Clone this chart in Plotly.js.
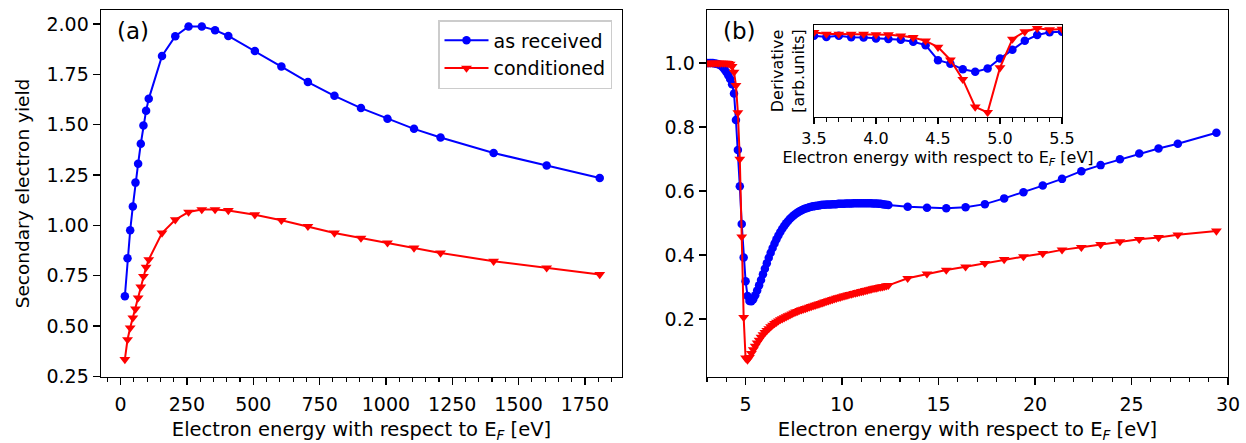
<!DOCTYPE html>
<html>
<head>
<meta charset="utf-8">
<script src="https://cdn.plot.ly/plotly-3.0.1.min.js"></script>
<style>html,body{margin:0;padding:0;background:#fff;}#chart{width:1246px;height:443px;}</style>
</head>
<body>
<div id="chart"></div>
<script>
// ---------- Panel (a) ----------
var energyA = [16,26,36,46,56,66,76,86,96,106,156,206,256,306,356,406,506,606,706,806,906,1006,1106,1206,1406,1606,1806];
var yieldAsReceivedA = [0.648,0.836,0.975,1.094,1.212,1.306,1.405,1.496,1.569,1.628,1.841,1.939,1.987,1.987,1.969,1.940,1.866,1.788,1.711,1.643,1.582,1.529,1.479,1.436,1.359,1.297,1.235];
var yieldConditionedA = [0.334,0.433,0.491,0.541,0.585,0.640,0.694,0.747,0.792,0.830,0.962,1.028,1.066,1.078,1.078,1.074,1.053,1.025,0.995,0.962,0.937,0.913,0.888,0.863,0.822,0.789,0.756];

// ---------- Panel (b) : dense low-energy part ----------
var energyBDense = [3.0,3.1,3.2,3.3,3.4,3.5,3.6,3.7,3.8,3.9,
  4.0,4.1,4.2,4.3,4.4,4.5,4.6,4.7,4.8,4.9,
  5.0,5.1,5.2,5.3,5.4,5.5,5.6,5.7,5.8,5.9,
  6.0,6.1,6.2,6.3,6.4,6.5,6.6,6.7,6.8,6.9,
  7.0,7.1,7.2,7.3,7.4,7.5,7.6,7.7,7.8,7.9,
  8.0,8.1,8.2,8.3,8.4,8.5,8.6,8.7,8.8,8.9,
  9.0,9.1,9.2,9.3,9.4,9.5,9.6,9.7,9.8,9.9,
  10.0,10.1,10.2,10.3,10.4,10.5,10.6,10.7,10.8,10.9,
  11.0,11.1,11.2,11.3,11.4,11.5,11.6,11.7,11.8,11.9,
  12.0,12.1,12.2,12.3,12.4];
var yieldAsReceivedBDense = [1.000,1.000,1.000,1.000,0.999,0.998,0.996,0.993,0.988,0.981,
  0.972,0.962,0.950,0.934,0.905,0.822,0.728,0.615,0.497,0.392,
  0.318,0.272,0.256,0.255,0.262,0.274,0.289,0.305,0.322,0.340,
  0.357,0.374,0.391,0.407,0.422,0.436,0.449,0.461,0.472,0.482,
  0.491,0.499,0.506,0.513,0.519,0.524,0.529,0.533,0.537,0.540,
  0.543,0.545,0.547,0.549,0.551,0.552,0.553,0.554,0.555,0.556,
  0.557,0.557,0.558,0.558,0.558,0.559,0.559,0.559,0.560,0.560,
  0.560,0.560,0.561,0.561,0.561,0.561,0.562,0.562,0.562,0.562,
  0.562,0.562,0.562,0.562,0.562,0.562,0.561,0.561,0.561,0.560,
  0.560,0.559,0.558,0.557,0.556];
var yieldConditionedBDense = [1.000,1.000,1.000,1.000,1.000,1.000,1.000,1.000,1.000,1.000,
  1.000,0.999,0.997,0.990,0.972,0.930,0.845,0.700,0.457,0.205,
  0.078,0.072,0.080,0.092,0.104,0.115,0.125,0.134,0.143,0.151,
  0.158,0.164,0.170,0.176,0.181,0.186,0.190,0.194,0.198,0.201,
  0.204,0.207,0.210,0.213,0.216,0.219,0.222,0.224,0.227,0.229,
  0.231,0.233,0.235,0.237,0.239,0.241,0.243,0.245,0.247,0.249,
  0.251,0.253,0.255,0.257,0.259,0.261,0.263,0.265,0.267,0.268,
  0.270,0.272,0.273,0.275,0.277,0.278,0.280,0.281,0.283,0.284,
  0.286,0.287,0.289,0.290,0.292,0.293,0.295,0.296,0.297,0.299,
  0.300,0.301,0.302,0.304,0.305];

// ---------- Panel (b) : sparse high-energy part ----------
var energyBSparse = [13.4,14.4,15.4,16.4,17.4,18.4,19.4,20.4,21.4,22.4,23.4,24.4,25.4,26.4,27.4,29.4];
var yieldAsReceivedBSparse = [0.551,0.548,0.546,0.549,0.559,0.577,0.596,0.617,0.638,0.662,0.681,0.699,0.717,0.733,0.748,0.782];
var yieldConditionedBSparse = [0.327,0.341,0.353,0.363,0.374,0.386,0.395,0.405,0.416,0.424,0.433,0.442,0.449,0.455,0.463,0.475];

// ---------- Inset : derivative ----------
var energyInset = [3.5,3.6,3.7,3.8,3.9,4.0,4.1,4.2,4.3,4.4,4.5,4.6,4.7,4.8,4.9,5.0,5.1,5.2,5.3,5.4,5.5];
var derivAsReceived = [0.883,0.870,0.883,0.868,0.865,0.854,0.847,0.839,0.818,0.781,0.617,0.580,0.518,0.493,0.526,0.635,0.730,0.828,0.891,0.920,0.927];
var derivConditioned = [0.920,0.901,0.901,0.901,0.901,0.894,0.894,0.883,0.865,0.828,0.759,0.620,0.409,0.109,0.051,0.536,0.847,0.927,0.964,0.949,0.956];

var seriesNames = ['as received', 'conditioned'];
var xTitle = 'Electron energy with respect to E<sub><i>F</i></sub> [eV]';

var BLUE = '#0000ff', RED = '#ff0000';
var FONT = 'DejaVu Sans, Liberation Sans, sans-serif';

function blueTrace(x, y, xa, ya, show) {
  return {x: x, y: y, xaxis: xa, yaxis: ya, type: 'scatter', mode: 'lines+markers',
    name: seriesNames[0], showlegend: show, legendgroup: 'a',
    line: {color: BLUE, width: 2}, marker: {symbol: 'circle', size: 8.5, color: BLUE}};
}
function redTrace(x, y, xa, ya, show) {
  return {x: x, y: y, xaxis: xa, yaxis: ya, type: 'scatter', mode: 'lines+markers',
    name: seriesNames[1], showlegend: show, legendgroup: 'c',
    line: {color: RED, width: 2}, marker: {symbol: 'triangle-down', size: 9.5, color: RED}};
}

var data = [
  blueTrace(energyA, yieldAsReceivedA, 'x', 'y', true),
  redTrace(energyA, yieldConditionedA, 'x', 'y', true),
  blueTrace(energyBDense.concat(energyBSparse), yieldAsReceivedBDense.concat(yieldAsReceivedBSparse), 'x2', 'y2', false),
  redTrace(energyBDense.concat(energyBSparse), yieldConditionedBDense.concat(yieldConditionedBSparse), 'x2', 'y2', false),
  blueTrace(energyInset, derivAsReceived, 'x3', 'y3', false),
  redTrace(energyInset, derivConditioned, 'x3', 'y3', false)
];

var W = 1246, H = 443;
function px(v) { return v / W; }
function py(v) { return 1 - v / H; }

var TICK = 19, TITLE = 19.5, INSET = 16;

var axBase = {
  showline: true, mirror: true, linecolor: 'black', linewidth: 1.4,
  ticks: 'outside', ticklen: 7, tickwidth: 1.4, tickcolor: 'black',
  showgrid: false, zeroline: false, automargin: false,
  tickfont: {family: FONT, size: TICK, color: '#000'}
};
function ax(extra) { return Object.assign({}, axBase, extra); }

var layout = {
  width: W, height: H,
  margin: {l: 0, r: 0, t: 0, b: 0},
  paper_bgcolor: '#fff', plot_bgcolor: 'rgba(0,0,0,0)',
  font: {family: FONT, size: TICK, color: '#000'},
  showlegend: true,
  legend: {x: px(612), xanchor: 'right', y: py(20), yanchor: 'top',
    bgcolor: 'rgba(255,255,255,0.8)', bordercolor: '#cccccc', borderwidth: 1.5,
    itemwidth: 44,
    font: {family: FONT, size: TICK, color: '#000'}, tracegroupgap: 0},
  xaxis: ax({domain: [px(101), px(622)], anchor: 'y', range: [-74, 1890],
    tick0: 0, dtick: 250, ticklabelstandoff: 3,
    minor: {dtick: 50, tick0: 0, ticks: 'outside', ticklen: 4, tickwidth: 1.1, tickcolor: 'black'},
    title: {text: xTitle, font: {family: FONT, size: TITLE}, standoff: 11}}),
  yaxis: ax({domain: [py(377), py(10)], anchor: 'x', range: [0.247, 2.069],
    tick0: 0.25, dtick: 0.25, tickformat: '.2f',
    title: {text: 'Secondary electron yield', font: {family: FONT, size: 18.5}, standoff: 12}}),
  xaxis2: ax({domain: [px(707), px(1228)], anchor: 'y2', range: [3, 30],
    tick0: 0, dtick: 5, ticklabelstandoff: 3,
    minor: {dtick: 1, tick0: 0, ticks: 'outside', ticklen: 4, tickwidth: 1.1, tickcolor: 'black'},
    title: {text: xTitle, font: {family: FONT, size: TITLE}, standoff: 11}}),
  yaxis2: ax({domain: [py(377), py(10)], anchor: 'x2', range: [0.0185, 1.166],
    tick0: 0, dtick: 0.2, tickformat: '.1f'}),
  xaxis3: ax({domain: [px(814), px(1062)], anchor: 'y3', range: [3.5, 5.5],
    tick0: 3.5, dtick: 0.5, tickformat: '.1f', ticklen: 6,
    tickfont: {family: FONT, size: INSET, color: '#000'},
    minor: {dtick: 0.1, tick0: 3.5, ticks: 'outside', ticklen: 3.5, tickwidth: 1.1, tickcolor: 'black'},
    title: {text: xTitle, font: {family: FONT, size: INSET}, standoff: 0}}),
  yaxis3: ax({domain: [py(117), py(25)], anchor: 'x3', range: [0, 1],
    ticks: '', showticklabels: false,
    title: {text: 'Derivative<br>[arb.units]', font: {family: FONT, size: INSET}, standoff: 4}}),
  annotations: [
    {text: '(a)', xref: 'paper', yref: 'paper', x: px(115), y: py(31), xanchor: 'left', yanchor: 'middle',
      showarrow: false, font: {family: FONT, size: 23, color: '#000'}},
    {text: '(b)', xref: 'paper', yref: 'paper', x: px(721), y: py(31), xanchor: 'left', yanchor: 'middle',
      showarrow: false, font: {family: FONT, size: 23, color: '#000'}}
  ]
};

Plotly.newPlot('chart', data, layout, {displayModeBar: false, staticPlot: true});
</script>
</body>
</html>
